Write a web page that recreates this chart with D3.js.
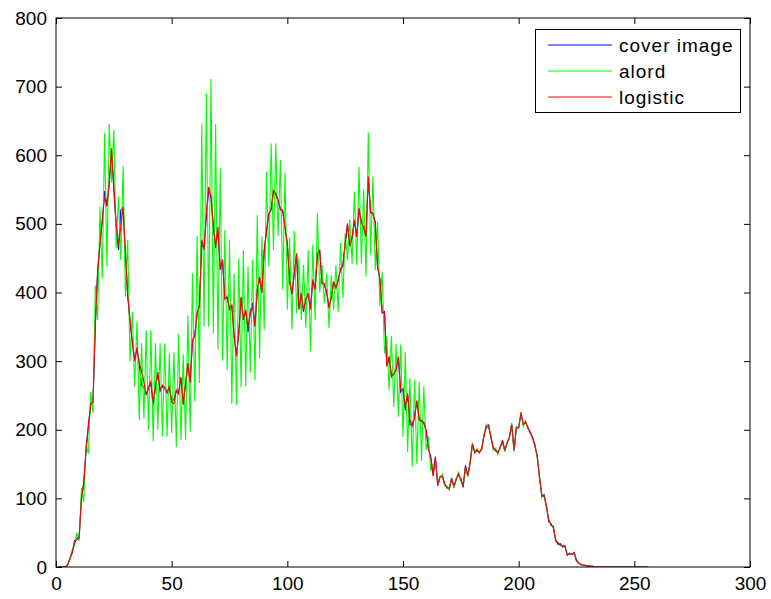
<!DOCTYPE html>
<html>
<head>
<meta charset="utf-8">
<script src="https://cdn.jsdelivr.net/npm/d3@7"></script>
<style>
html,body{margin:0;padding:0;background:#fff;}
svg{display:block;}
text{font-family:"Liberation Sans",Arial,Helvetica,sans-serif;fill:#000;}
</style>
</head>
<body>
<svg id="chart" width="771" height="599"></svg>
<script>
const seriesNames = ["cover image", "alord", "logistic"];
const seriesColors = ["#0000ff", "#00ff00", "#ff0000"];
const xTicks = [0, 50, 100, 150, 200, 250, 300];
const yTicks = [0, 100, 200, 300, 400, 500, 600, 700, 800];

// histogram bins 1..256
const logistic = [
0,0,0,0,3,12,22,35,40,42,
100,122,172,205,238,240,355,430,470,505,
540,525,560,610,554,500,468,495,525,460,
394,360,326,300,320,297,285,270,250,262,
270,240,265,284,258,265,260,255,263,240,
238,258,252,277,236,268,297,268,331,336,
370,380,477,462,515,554,540,496,467,496,
433,448,390,394,375,382,336,307,341,394,
360,375,350,370,380,350,404,423,399,462,
491,515,520,549,545,535,520,520,494,472,
419,397,428,457,375,399,375,389,399,375,
419,404,457,462,413,413,399,377,394,416,
406,419,433,440,472,501,467,481,506,481,
523,501,496,481,569,516,516,501,438,419,
372,370,292,307,277,282,287,307,258,258,
234,253,214,205,217,243,214,214,209,200,
171,161,132,161,118,132,132,122,115,115,
128,118,127,136,127,118,146,134,151,180,
166,171,166,173,190,205,205,190,173,171,
166,175,183,171,180,190,207,171,202,204,
225,207,212,202,197,188,178,161,132,103,
105,88,68,61,59,38,35,32,31,30,
18,19,19,20,10,5,4,3,2,2,
1,1,0,0,0,0,0,0,0,0,
0,0,0,0,0,0,0,0,0,0,
0,0,0,0,0,0];

const coverImage = [
0,0,0,0,3,12,20,38,42,44,
98,124,170,207,236,242,352,432,472,503,
548,528,558,606,550,498,462,520,522,458,
396,358,328,302,318,295,265,262,252,260,
268,235,262,282,256,263,262,253,261,242,
244,256,254,275,238,266,295,270,329,338,
368,382,470,465,512,550,538,498,465,490,
435,446,392,392,377,380,338,309,339,392,
362,373,342,372,385,352,402,421,401,460,
489,513,522,547,543,533,522,518,496,470,
415,399,426,455,377,397,372,391,397,377,
417,406,455,460,415,411,401,379,392,414,
408,417,435,438,470,499,469,479,504,483,
521,503,494,483,567,518,514,503,436,421,
370,372,294,305,279,280,289,305,255,260,
228,251,207,207,222,241,216,212,211,198,
173,159,134,159,120,130,134,120,117,113,
130,116,129,134,129,116,148,132,153,178,
168,169,168,171,192,203,207,188,175,169,
168,173,185,169,182,188,209,169,204,202,
223,209,210,204,195,190,176,163,130,105,
103,90,66,63,57,40,33,34,29,31,
17,20,18,21,9,6,3,3,2,1,
1,1,0,0,0,0,0,0,0,0,
0,0,0,0,0,0,0,0,0,0,
0,0,0,0,0,0];

const alord = [
0,0,0,0,4,10,25,30,50,38,
115,95,180,165,255,224,410,360,525,420,
632,438,646,560,637,465,540,447,584,394,
477,300,372,263,358,214,326,216,345,200,
345,183,326,200,326,190,326,190,311,195,
313,175,340,185,310,185,367,197,428,241,
482,268,646,350,690,350,711,340,645,317,
581,301,491,287,477,238,428,236,450,262,
462,263,438,283,448,272,513,304,482,345,
576,438,617,462,617,482,593,404,575,375,
480,346,490,370,450,360,440,348,462,314,
470,360,516,400,440,384,428,348,425,375,
440,372,472,392,486,447,506,442,547,440,
583,442,550,423,633,455,569,433,503,380,
430,311,337,258,337,233,325,219,324,190,
313,168,275,146,272,150,270,155,263,170,
190,140,150,150,125,130,135,118,118,112,
130,115,128,138,125,120,143,132,150,178,
168,172,168,171,192,208,203,192,170,173,
164,175,181,168,182,188,209,168,203,202,
226,205,213,201,198,186,180,159,134,101,
106,86,70,60,60,37,36,31,32,29,
19,18,20,19,11,5,4,3,2,2,
1,1,0,0,0,0,0,0,0,0,
0,0,0,0,0,0,0,0,0,0,
0,0,0,0,0,0];

const seriesData = [coverImage, alord, logistic];

const L = 56, R = 750, T = 18, B = 567;
const svg = d3.select("#chart");
const x = d3.scaleLinear().domain([0, 300]).range([L, R]);
const y = d3.scaleLinear().domain([0, 800]).range([B, T]);

svg.append("defs").append("clipPath").attr("id", "clip")
  .append("rect").attr("x", L).attr("y", T).attr("width", R - L).attr("height", B - T);

const line = d3.line().x((d, i) => x(i + 1)).y(d => y(d));
const g = svg.append("g").attr("clip-path", "url(#clip)");
seriesData.forEach((arr, k) => {
  g.append("path").datum(arr)
    .attr("d", line)
    .attr("fill", "none")
    .attr("stroke", seriesColors[k])
    .attr("stroke-width", 1.1);
});

// axes box with inward ticks on all sides
const tickLen = 6;
const axG = svg.append("g");
axG.append("g").attr("transform", `translate(0,${B})`)
  .call(d3.axisBottom(x).tickValues(xTicks).tickSize(-tickLen).tickPadding(10).tickFormat(d3.format("d")));
axG.append("g").attr("transform", `translate(0,${T})`)
  .call(d3.axisTop(x).tickValues(xTicks).tickSize(-tickLen).tickFormat(""));
axG.append("g").attr("transform", `translate(${L},0)`)
  .call(d3.axisLeft(y).tickValues(yTicks).tickSize(-tickLen).tickPadding(9).tickFormat(d3.format("d")));
axG.append("g").attr("transform", `translate(${R},0)`)
  .call(d3.axisRight(y).tickValues(yTicks).tickSize(-tickLen).tickFormat(""));
axG.selectAll(".domain").remove();
axG.selectAll(".tick line").attr("stroke", "#000").attr("stroke-width", 1);
axG.selectAll(".tick text").style("font-size", "19px").attr("fill", "#000");
svg.append("rect").attr("x", L).attr("y", T).attr("width", R - L).attr("height", B - T)
  .attr("fill", "none").attr("stroke", "#000").attr("stroke-width", 1);

// legend
const lg = svg.append("g");
lg.append("rect").attr("x", 535.5).attr("y", 29.5).attr("width", 205).attr("height", 83)
  .attr("fill", "#fff").attr("stroke", "#000").attr("stroke-width", 1);
seriesNames.forEach((name, k) => {
  const yy = 45 + k * 26;
  lg.append("line").attr("x1", 548).attr("x2", 612).attr("y1", yy).attr("y2", yy)
    .attr("stroke", seriesColors[k]).attr("stroke-width", 1.2);
  lg.append("text").attr("x", 619).attr("y", yy).attr("dy", "0.35em")
    .style("font-size", "19px").style("letter-spacing", "1px").text(name);
});
</script>
</body>
</html>
